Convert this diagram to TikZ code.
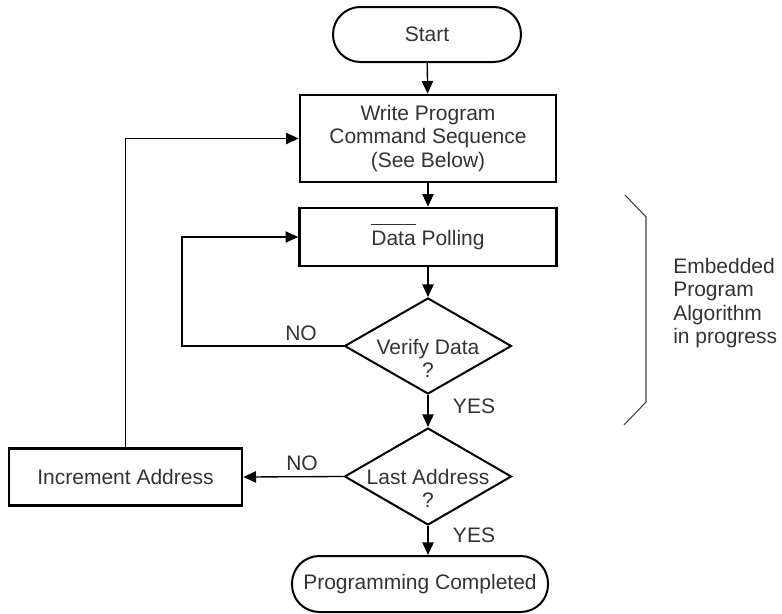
\documentclass[tikz,border=0pt]{standalone}
\usepackage{fontspec}
\setmainfont{Liberation Sans}
\usetikzlibrary{shapes.geometric,arrows.meta}
\definecolor{txt}{HTML}{333333}
\newcommand{\ovl}[1]{\vbox{\hrule height 0.75pt\kern 5pt\hbox{#1}}}
\tikzset{
  every node/.style={font=\fontsize{15.75pt}{17.6pt}\selectfont},
  box/.style={draw, line width=2pt, rectangle, inner sep=0pt, align=center, text=txt},
  pill/.style={draw, line width=1.5pt, rectangle, rounded corners=20.5pt, inner sep=0pt, text=txt},
  dia/.style={draw, line width=1.5pt, diamond, inner sep=0pt},
  lbl/.style={text=txt, inner sep=0pt, align=center},
  conn/.style={line width=1pt},
  arr/.style={conn, -{Triangle[length=9.5pt,width=8.5pt]}},
  bracket/.style={line width=0.8pt, draw=black!75},
}
\begin{document}
\begin{tikzpicture}[x=0.75pt, y=-0.75pt]
\useasboundingbox (0,0) rectangle (782,614);
% nodes
\node[pill, minimum width=141pt, minimum height=41.25pt] (start) at (427,34.5) {Start};
\node[box, minimum width=192pt, minimum height=65.25pt] (write) at (428,138.5) {Write Program\\Command Sequence\\(See Below)};
\node[box, minimum width=192.75pt, minimum height=43.5pt] (poll) at (428,237) {\ovl{Data} Polling};
\node[dia, minimum width=125.25pt, minimum height=72pt] (verify) at (428,346) {};
\node[lbl] (verifyt) at (428,358.5) {Verify Data\\?};
\node[dia, minimum width=125.25pt, minimum height=72.75pt] (last) at (428,476.5) {};
\node[lbl] (lastt) at (428,488.5) {Last Address\\?};
\node[box, minimum width=174.75pt, minimum height=42.75pt] (inc) at (125.5,477) {Increment Address};
\node[pill, minimum width=192pt, minimum height=42pt] (done) at (420,584) {Programming Completed};
% labels
\node[lbl] (no1) at (301,333) {NO};
\node[lbl] (yes1) at (474,406) {YES};
\node[lbl] (no2) at (302,463) {NO};
\node[lbl] (yes2) at (474,535) {YES};
\node[lbl, align=left, anchor=west] (emb) at (673,303) {Embedded\\Program\\Algorithm\\in progress};
% connectors
\coordinate (vl) at (182,0);
\draw[arr] (start) -- (write);
\draw[arr] (write) -- (poll);
\draw[arr] (poll) -- (verify);
\draw[arr] (verify) -- (last);
\draw[arr] (last.south) -- (last.south |- done.north);
\draw[arr] (last.west) -- (inc.east);
\draw[arr] (verify.west) -- (verify.west -| vl) |- (poll.west);
\draw[arr] (inc.north) |- (write.west);
% bracket
\coordinate (b1) at (625,195);
\coordinate (b2) at (646,217);
\coordinate (b3) at (646,402);
\coordinate (b4) at (624,425);
\draw[bracket] (b1) -- (b2) -- (b3) -- (b4);
\end{tikzpicture}
\end{document}
